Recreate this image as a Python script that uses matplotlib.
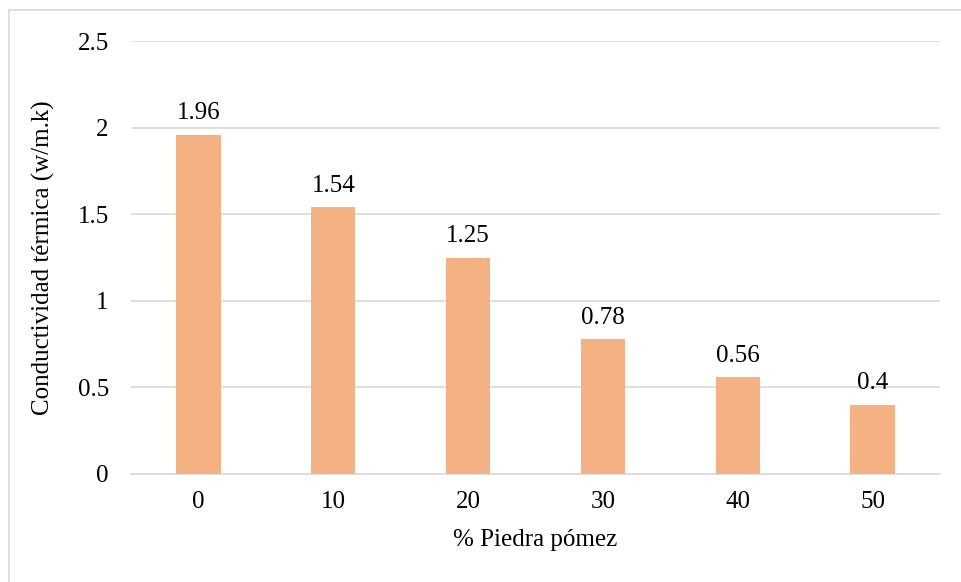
import matplotlib
matplotlib.use("Agg")
from matplotlib import pyplot as plt
from matplotlib.patches import Rectangle

# datos
piedra = ['0', '10', '20', '30', '40', '50']
conductividad = [1.96, 1.54, 1.25, 0.78, 0.56, 0.4]
etiquetas = ['1.96', '1.54', '1.25', '0.78', '0.56', '0.4']

plt.rcParams['font.family'] = ['Liberation Serif', 'DejaVu Serif']

fig = plt.figure(figsize=(9.61, 5.82), dpi=100)
ax = fig.add_axes([131 / 961, 108 / 582, 809 / 961, 433 / 582])

# marco exterior
fig.patches.append(Rectangle((9 / 961, -0.05), 1.0, 1 - 10 / 582 + 0.05, transform=fig.transFigure,
                             fill=False, edgecolor='#d9d9d9', linewidth=1.2))

x = range(len(piedra))
bars = ax.bar(x, conductividad, width=0.33, color='#F4B183', zorder=3)
for b, t in zip(bars, etiquetas):
    ax.text(b.get_x() + b.get_width() / 2, b.get_height() + 0.06, t,
            ha='center', va='bottom', fontsize=18, color='#000000')

ax.set_xlim(-0.5, len(piedra) - 0.5)
ax.set_ylim(0, 2.5)
ax.set_yticks([0, 0.5, 1, 1.5, 2, 2.5])
ax.set_yticklabels(['0', '0.5', '1', '1.5', '2', '2.5'])
ax.set_xticks(list(x))
ax.set_xticklabels(piedra)
ax.tick_params(axis='both', length=0, labelsize=18)
ax.tick_params(axis='y', pad=16)
ax.tick_params(axis='x', pad=12)
ax.grid(axis='y', color='#d9d9d9', linewidth=1.2, zorder=0)
for s in ['top', 'right', 'left']:
    ax.spines[s].set_visible(False)
ax.spines['bottom'].set_color('#d9d9d9')
ax.spines['bottom'].set_linewidth(1.2)

ax.set_ylabel('Conductividad térmica (w/m.k)', fontsize=18, labelpad=16)
ax.set_xlabel('% Piedra pómez', fontsize=18, labelpad=12)

fig.savefig('out.png', dpi=100)
